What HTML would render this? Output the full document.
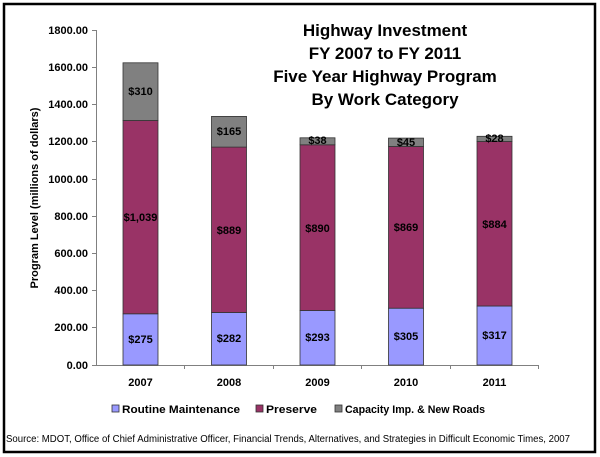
<!DOCTYPE html>
<html><head><style>body{margin:0;background:#fff}svg{display:block}</style></head><body>
<svg width="600" height="457" xmlns="http://www.w3.org/2000/svg" font-family="Liberation Sans, Arial, sans-serif">
<rect x="0" y="0" width="600" height="457" fill="#fff"/>
<rect x="4" y="4" width="591" height="448" fill="none" stroke="#000" stroke-width="2.5"/>
<g font-weight="bold" font-size="17" text-anchor="middle" fill="#000">
<text x="385" y="36">Highway Investment</text>
<text x="385" y="59">FY 2007 to FY 2011</text>
<text x="385" y="82">Five Year Highway Program</text>
<text x="385" y="105">By Work Category</text>
</g>
<g stroke="#808080" stroke-width="1">
<line x1="96.5" y1="30" x2="96.5" y2="365"/>
<line x1="96" y1="365.5" x2="538" y2="365.5"/>
<line x1="92" y1="30.5" x2="96" y2="30.5"/><line x1="92" y1="67.5" x2="96" y2="67.5"/><line x1="92" y1="104.5" x2="96" y2="104.5"/><line x1="92" y1="141.5" x2="96" y2="141.5"/><line x1="92" y1="179.5" x2="96" y2="179.5"/><line x1="92" y1="216.5" x2="96" y2="216.5"/><line x1="92" y1="253.5" x2="96" y2="253.5"/><line x1="92" y1="290.5" x2="96" y2="290.5"/><line x1="92" y1="327.5" x2="96" y2="327.5"/><line x1="92" y1="365.5" x2="96" y2="365.5"/>
<line x1="184.5" y1="365" x2="184.5" y2="369"/><line x1="273.5" y1="365" x2="273.5" y2="369"/><line x1="361.5" y1="365" x2="361.5" y2="369"/><line x1="450.5" y1="365" x2="450.5" y2="369"/><line x1="538.5" y1="365" x2="538.5" y2="369"/>
</g>
<g font-size="11" font-weight="bold" text-anchor="end" fill="#000">
<text x="88" y="34">1800.00</text><text x="88" y="71">1600.00</text><text x="88" y="108">1400.00</text><text x="88" y="145">1200.00</text><text x="88" y="183">1000.00</text><text x="88" y="220">800.00</text><text x="88" y="257">600.00</text><text x="88" y="294">400.00</text><text x="88" y="331">200.00</text><text x="88" y="369">0.00</text>
</g>
<text transform="translate(38,198) rotate(-90)" font-size="11" font-weight="bold" text-anchor="middle">Program Level (millions of dollars)</text>
<g stroke="#333" stroke-width="0.8">
<rect x="123" y="313.8" width="35" height="51.2" fill="#9999FF"/><rect x="123" y="120.5" width="35" height="193.3" fill="#993366"/><rect x="123" y="62.8" width="35" height="57.7" fill="#808080"/>
<rect x="211.5" y="312.5" width="35" height="52.5" fill="#9999FF"/><rect x="211.5" y="147.1" width="35" height="165.4" fill="#993366"/><rect x="211.5" y="116.4" width="35" height="30.7" fill="#808080"/>
<rect x="300" y="310.5" width="35" height="54.5" fill="#9999FF"/><rect x="300" y="144.8" width="35" height="165.7" fill="#993366"/><rect x="300" y="137.8" width="35" height="7" fill="#808080"/>
<rect x="388.5" y="308.2" width="35" height="56.8" fill="#9999FF"/><rect x="388.5" y="146.5" width="35" height="161.7" fill="#993366"/><rect x="388.5" y="138.1" width="35" height="8.4" fill="#808080"/>
<rect x="477" y="306" width="35" height="59" fill="#9999FF"/><rect x="477" y="141.5" width="35" height="164.5" fill="#993366"/><rect x="477" y="136.3" width="35" height="5.2" fill="#808080"/>
</g>
<g font-size="11" font-weight="bold" text-anchor="middle" fill="#000">
<text x="140.5" y="343">$275</text><text x="140.5" y="221">$1,039</text><text x="140.5" y="95">$310</text>
<text x="229" y="342">$282</text><text x="229" y="234">$889</text><text x="229" y="135">$165</text>
<text x="317.5" y="341">$293</text><text x="317.5" y="232">$890</text><text x="317.5" y="144">$38</text>
<text x="406" y="340">$305</text><text x="406" y="231">$869</text><text x="406" y="146">$45</text>
<text x="494.5" y="339">$317</text><text x="494.5" y="228">$884</text><text x="494.5" y="142">$28</text>
<text x="140.5" y="386">2007</text><text x="229" y="386">2008</text><text x="317.5" y="386">2009</text><text x="406" y="386">2010</text><text x="494.5" y="386">2011</text>
</g>
<g stroke="#333" stroke-width="0.8">
<rect x="112" y="405" width="7" height="7" fill="#9999FF"/><rect x="256" y="405" width="7" height="7" fill="#993366"/><rect x="335" y="405" width="7" height="7" fill="#808080"/>
</g>
<g font-size="11" font-weight="bold" fill="#000">
<text x="122" y="413" textLength="118" lengthAdjust="spacingAndGlyphs">Routine Maintenance</text><text x="266" y="413" textLength="51" lengthAdjust="spacingAndGlyphs">Preserve</text><text x="345" y="413" textLength="140" lengthAdjust="spacingAndGlyphs">Capacity Imp. &amp; New Roads</text>
</g>
<text x="6" y="442" font-size="10" fill="#000" textLength="564" lengthAdjust="spacingAndGlyphs">Source: MDOT, Office of Chief Administrative Officer, Financial Trends, Alternatives, and Strategies in Difficult Economic Times, 2007</text>
</svg>
</body></html>
